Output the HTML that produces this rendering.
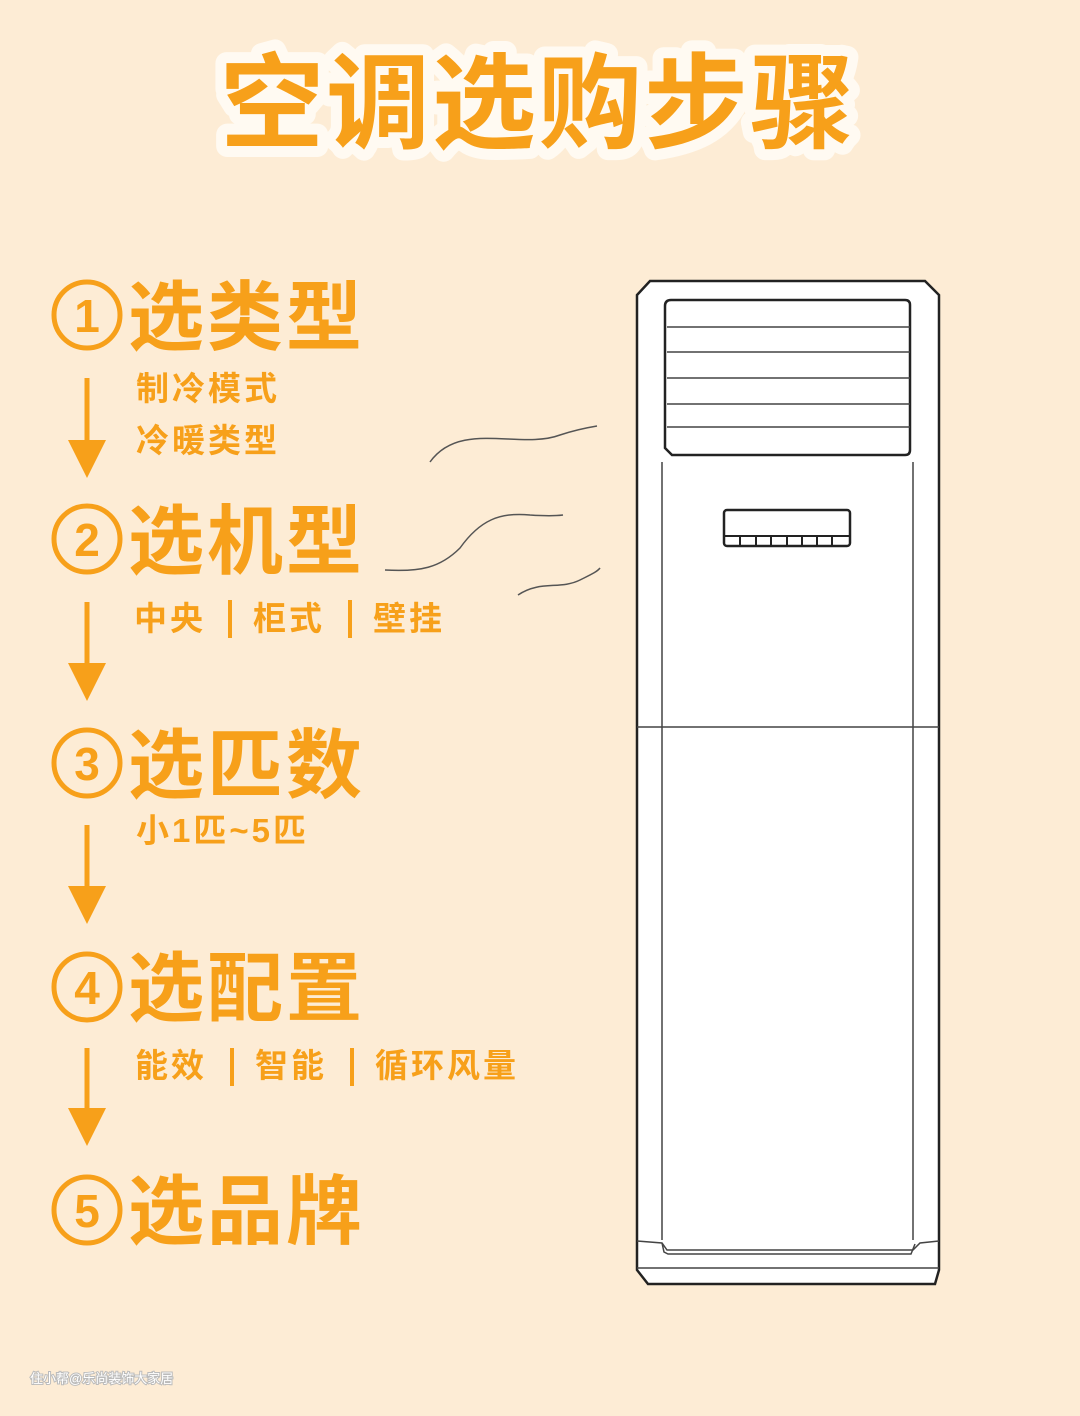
<!DOCTYPE html>
<html><head><meta charset="utf-8"><style>
html,body{margin:0;padding:0;background:#fdecd5;}
svg{display:block}
text{font-family:"Liberation Sans","Noto Sans CJK SC",sans-serif;font-weight:bold}
</style></head><body>
<svg width="1080" height="1416" viewBox="0 0 1080 1416">
<rect width="1080" height="1416" fill="#fdecd5"/>
<text x="538" y="140" text-anchor="middle" font-size="104" letter-spacing="2" fill="#f7a01a" stroke="#fffaf2" stroke-width="22" stroke-linejoin="round" paint-order="stroke">空调选购步骤</text>

<g fill="#f7a01a">
<g font-size="76" letter-spacing="3">
<text x="128" y="344">选类型</text>
<text x="128" y="568">选机型</text>
<text x="128" y="792">选匹数</text>
<text x="128" y="1015">选配置</text>
<text x="128" y="1238">选品牌</text>
</g>
<g font-size="33" letter-spacing="3">
<text x="136" y="400">制冷模式</text>
<text x="136" y="452">冷暖类型</text>
<text x="134" y="630">中央</text><text x="253" y="630">柜式</text><text x="373" y="630">壁挂</text>
<text x="136" y="842">小1匹~5匹</text>
<text x="135" y="1077">能效</text><text x="255" y="1077">智能</text><text x="375" y="1077">循环风量</text>
</g>
</g>
<g stroke="#f7a01a" stroke-width="4">
<line x1="230" y1="600" x2="230" y2="638"/><line x1="350" y1="600" x2="350" y2="638"/>
<line x1="232" y1="1048" x2="232" y2="1086"/><line x1="352" y1="1048" x2="352" y2="1086"/>
</g>
<g fill="none" stroke="#f7a01a" stroke-width="5">
<circle cx="87" cy="315" r="33"/><circle cx="87" cy="539" r="33"/><circle cx="87" cy="763" r="33"/><circle cx="87" cy="987" r="33"/><circle cx="87" cy="1210" r="33"/>
</g>
<g fill="#f7a01a" font-size="46" text-anchor="middle">
<text x="87" y="332">1</text><text x="87" y="556">2</text><text x="87" y="780">3</text><text x="87" y="1004">4</text><text x="87" y="1227">5</text>
</g>
<g stroke="#f7a01a" stroke-width="5">
<line x1="87" y1="378" x2="87" y2="445"/><line x1="87" y1="602" x2="87" y2="668"/><line x1="87" y1="825" x2="87" y2="890"/><line x1="87" y1="1048" x2="87" y2="1112"/>
</g>
<g fill="#f7a01a">
<polygon points="68,440 106,440 87,478"/><polygon points="68,663 106,663 87,701"/><polygon points="68,886 106,886 87,924"/><polygon points="68,1108 106,1108 87,1146"/>
</g>

<g fill="none" stroke="#555" stroke-width="1.5">
<path d="M430,462 C460,420 520,450 560,435 C575,430 585,428 597,426"/>
<path d="M385,570 C420,572 440,568 460,548 C480,520 500,512 530,515 C545,516 555,516 563,515"/>
<path d="M518,595 C540,580 560,590 580,580 C590,575 597,572 600,568"/>
</g>

<g stroke="#222" fill="#fff">
<path d="M650,281 L925,281 L939,295 L939,1270 L935,1284 L648,1284 L637,1270 L637,295 Z" stroke-width="2.5"/>
<path d="M671,300 L905,300 Q910,300 910,305 L910,450 Q910,455 905,455 L672,455 L665,448 L665,306 Q665,300 671,300 Z" stroke-width="2.5"/>
<rect x="724" y="510" width="126" height="36" rx="3" stroke-width="2.5"/>
</g>
<g stroke="#444" stroke-width="1.5" fill="none">
<line x1="667" y1="327" x2="910" y2="327"/><line x1="667" y1="352" x2="910" y2="352"/><line x1="667" y1="378" x2="910" y2="378"/><line x1="667" y1="404" x2="910" y2="404"/><line x1="667" y1="427" x2="910" y2="427"/>
<line x1="662" y1="462" x2="662" y2="1240"/><line x1="913" y1="462" x2="913" y2="1240"/>
<line x1="637" y1="727" x2="939" y2="727"/>
<line x1="637" y1="1268" x2="939" y2="1268"/>
<path d="M637,1241 L662,1243 L667,1250 L913,1250 L920,1243 L939,1241"/>
<path d="M662,1243 L664,1252 L668,1254 L911,1254 L915,1244"/>
</g>
<g stroke="#222" stroke-width="2">
<line x1="724" y1="536" x2="850" y2="536"/>
<line x1="740" y1="536" x2="740" y2="546"/><line x1="756" y1="536" x2="756" y2="546"/><line x1="771" y1="536" x2="771" y2="546"/><line x1="787" y1="536" x2="787" y2="546"/><line x1="802" y1="536" x2="802" y2="546"/><line x1="817" y1="536" x2="817" y2="546"/><line x1="832" y1="536" x2="832" y2="546"/>
</g>
<text x="30" y="1383" font-size="13" fill="#fff" stroke="#bbb" stroke-width="2" paint-order="stroke" style="font-weight:normal">住小帮@乐尚装饰大家居</text>
</svg>
</body></html>
